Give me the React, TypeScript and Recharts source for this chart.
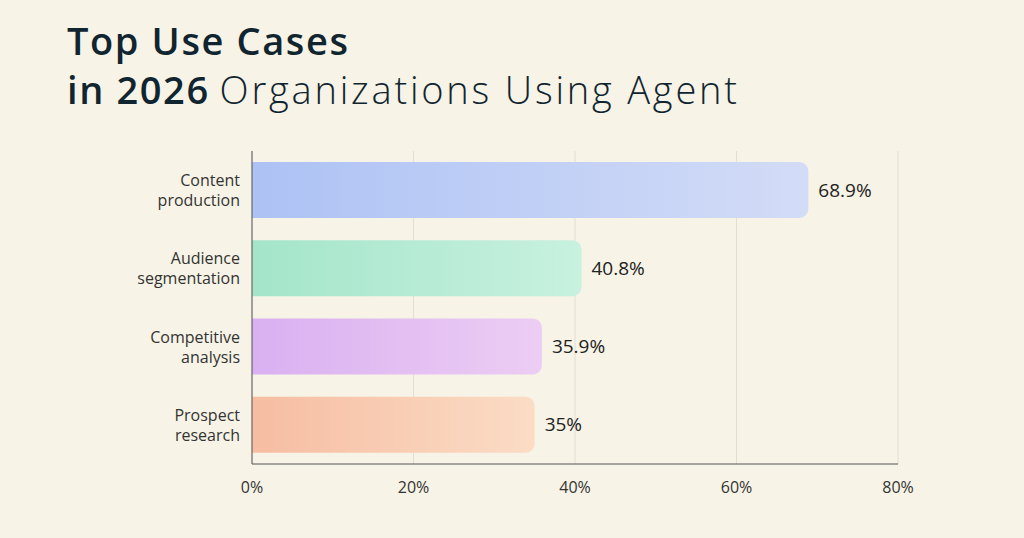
import { BarChart, Bar, XAxis, YAxis, CartesianGrid, Cell, LabelList } from 'recharts'

const categories = ['Content production', 'Audience segmentation', 'Competitive analysis', 'Prospect research']
const shares = [68.9, 40.8, 35.9, 35]
const xTicks = [0, 20, 40, 60, 80]

const gradients = [
  ['#adc2f4', '#d3dcf7'],
  ['#a4e5c9', '#c8f1e0'],
  ['#d9b0f1', '#eccdf3'],
  ['#f6bda2', '#fbdcc5'],
]

const chartData = categories.map((name, i) => ({ name, value: shares[i] }))

const CategoryTick = ({ x, y, payload }: any) => {
  const words = String(payload.value).split(' ')
  return (
    <text x={x} y={y} textAnchor="end" fill="#333" fontSize={16}>
      {words.map((w: string, i: number) => (
        <tspan key={i} x={x} dy={i === 0 ? -4 : 20}>{w}</tspan>
      ))}
    </text>
  )
}

export default function App() {
  return (
    <div style={{ position: 'absolute', left: 0, top: 0, width: 1024, height: 538, background: '#f7f3e6', fontFamily: 'Open Sans, sans-serif', overflow: 'hidden' }}>
      <div style={{ position: 'absolute', left: 67, top: 16, color: '#10252f', fontSize: 38, lineHeight: '49px', whiteSpace: 'nowrap' }}>
        <div style={{ fontWeight: 600, letterSpacing: 1.6 }}>Top Use Cases</div>
        <div>
          <span style={{ fontWeight: 600, letterSpacing: 1.6 }}>in 2026</span>{' '}
          <span style={{ fontWeight: 300, letterSpacing: 2.8 }}>Organizations Using Agent</span>
        </div>
      </div>
      <div style={{ position: 'absolute', left: 0, top: 0 }}>
        <BarChart
          width={1024}
          height={538}
          layout="vertical"
          data={chartData}
          margin={{ top: 151, right: 126, bottom: 44, left: 0 }}
          barSize={56}
        >
          <defs>
            {gradients.map((g, i) => (
              <linearGradient key={i} id={`g${i}`} x1="0" y1="0" x2="1" y2="0">
                <stop offset="0%" stopColor={g[0]} />
                <stop offset="100%" stopColor={g[1]} />
              </linearGradient>
            ))}
          </defs>
          <CartesianGrid horizontal={false} stroke="#e3ded1" />
          <XAxis
            type="number"
            domain={[0, 80]}
            ticks={xTicks}
            tickFormatter={(v) => `${v}%`}
            axisLine={{ stroke: '#555' }}
            tickLine={false}
            tick={{ fill: '#333', fontSize: 16 }}
            tickMargin={12}
            height={30}
          />
          <YAxis
            type="category"
            dataKey="name"
            width={252}
            axisLine={{ stroke: '#555' }}
            tickLine={false}
            tickMargin={6}
            tick={<CategoryTick />}
          />
          <Bar dataKey="value" radius={[0, 9, 9, 0]} isAnimationActive={false}>
            {chartData.map((_, i) => (
              <Cell key={i} fill={`url(#g${i})`} />
            ))}
            <LabelList
              dataKey="value"
              position="right"
              offset={10}
              formatter={(v: any) => `${v}%`}
              style={{ fill: '#222', fontSize: 19 }}
            />
          </Bar>
        </BarChart>
      </div>
    </div>
  )
}
